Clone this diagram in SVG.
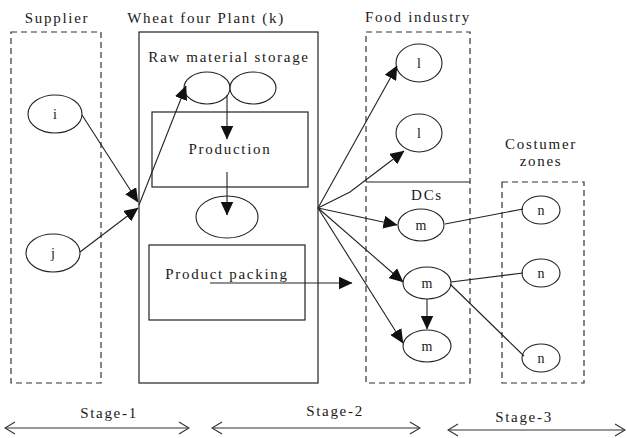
<svg xmlns="http://www.w3.org/2000/svg" width="627" height="438" viewBox="0 0 627 438">
<style>
  text { font-family: "Liberation Serif", "Times New Roman", serif; fill: #1a1a1a; text-anchor: middle; }
  .t { font-size: 15px; letter-spacing: 1.7px; }
  .n { font-size: 14px; }
  .dash { fill: none; stroke: #333; stroke-width: 1.2; stroke-dasharray: 6 4; }
  .box { fill: none; stroke: #222; stroke-width: 1.2; }
  .node { fill: #fff; stroke: #222; stroke-width: 1.1; }
  .c { fill: none; stroke: #222; stroke-width: 1.1; }
  .a { marker-end: url(#ah); }
  .s { fill: none; stroke: #333; stroke-width: 1.1; marker-start: url(#open); marker-end: url(#open); }
</style>
<defs>
  <marker id="ah" markerUnits="userSpaceOnUse" markerWidth="14" markerHeight="13" viewBox="0 0 14 13" refX="13.5" refY="6.5" orient="auto">
    <path d="M0,0 L14,6.5 L0,13 Z" fill="#111"/>
  </marker>
  <marker id="open" markerUnits="userSpaceOnUse" markerWidth="12" markerHeight="14" viewBox="0 0 12 14" refX="11" refY="7" orient="auto-start-reverse">
    <path d="M1,1 L11,7 L1,13" fill="none" stroke="#333" stroke-width="1.1"/>
  </marker>
</defs>

<g id="supplier">
  <rect class="dash" x="11" y="32" width="90" height="351"/>
  <text class="t" x="57" y="23">Supplier</text>
</g>
<g id="plant">
  <rect class="box" x="139" y="32" width="179" height="351"/>
  <text class="t" x="206" y="23">Wheat four Plant (k)</text>
  <text class="t" x="229" y="62">Raw material storage</text>
</g>
<g id="food-industry">
  <rect class="dash" x="366" y="32" width="104" height="351"/>
  <line x1="366" y1="182" x2="470" y2="182" stroke="#222" stroke-width="1.2"/>
  <text class="t" x="418" y="22">Food industry</text>
  <text class="t" x="427" y="200">DCs</text>
</g>
<g id="customer-zones">
  <rect class="dash" x="502" y="182" width="82" height="201"/>
  <text class="t" x="541" y="149">Costumer</text>
  <text class="t" x="541" y="166">zones</text>
</g>

<g id="node-i"><ellipse class="node" cx="55" cy="114" rx="27" ry="19"/><text class="n" x="55" y="119">i</text></g>
<g id="node-j"><ellipse class="node" cx="53" cy="253" rx="27" ry="19"/><text class="n" x="53" y="258">j</text></g>
<g id="storage-1"><ellipse class="node" cx="207" cy="88" rx="23" ry="16"/></g>
<g id="storage-2"><ellipse class="node" cx="253" cy="88" rx="23" ry="16"/></g>
<g id="production"><rect class="box" x="152" y="112" width="156" height="75"/><text class="t" x="230" y="154">Production</text></g>
<g id="product-store"><ellipse class="node" cx="227" cy="217" rx="31" ry="21"/></g>
<g id="packing"><rect class="box" x="149" y="245" width="156" height="75"/><text class="t" x="227" y="279">Product packing</text></g>
<g id="node-l1"><ellipse class="node" cx="419" cy="63" rx="23" ry="19"/><text class="n" x="419" y="68">l</text></g>
<g id="node-l2"><ellipse class="node" cx="419" cy="133" rx="23" ry="19"/><text class="n" x="419" y="138">l</text></g>
<g id="node-m1"><ellipse class="node" cx="421" cy="225" rx="23" ry="16"/><text class="n" x="421" y="230">m</text></g>
<g id="node-m2"><ellipse class="node" cx="427" cy="283" rx="24" ry="16"/><text class="n" x="427" y="288">m</text></g>
<g id="node-m3"><ellipse class="node" cx="427" cy="346" rx="24" ry="16"/><text class="n" x="427" y="351">m</text></g>
<g id="node-n1"><ellipse class="node" cx="541" cy="210" rx="19" ry="14"/><text class="n" x="541" y="215">n</text></g>
<g id="node-n2"><ellipse class="node" cx="541" cy="273" rx="19" ry="14"/><text class="n" x="541" y="278">n</text></g>
<g id="node-n3"><ellipse class="node" cx="541" cy="358" rx="19" ry="14"/><text class="n" x="541" y="363">n</text></g>

<g id="connectors">
  <line class="c a" x1="82" y1="115" x2="138" y2="202"/>
  <line class="c a" x1="80" y1="252" x2="138" y2="208"/>
  <line class="c a" x1="139" y1="205" x2="186" y2="86"/>
  <line class="c a" x1="227" y1="95" x2="227" y2="139"/>
  <line class="c a" x1="227" y1="172" x2="227" y2="215"/>
  <line class="c a" x1="210" y1="283" x2="352" y2="283"/>
  <line class="c a" x1="318" y1="208" x2="397" y2="66"/>
  <polyline class="c a" points="318,208 350,192 404,151"/>
  <line class="c a" x1="318" y1="208" x2="397" y2="225"/>
  <line class="c a" x1="318" y1="208" x2="403" y2="282"/>
  <line class="c a" x1="318" y1="208" x2="403" y2="343"/>
  <line class="c a" x1="427" y1="299" x2="427" y2="329"/>
  <line class="c" x1="445" y1="224" x2="523" y2="209"/>
  <line class="c" x1="451" y1="282" x2="523" y2="273"/>
  <line class="c" x1="450" y1="284" x2="524" y2="356"/>
</g>

<g id="stages">
  <line class="s" x1="5" y1="428" x2="189" y2="428"/>
  <text class="t" x="109" y="418">Stage-1</text>
  <line class="s" x1="212" y1="428" x2="420" y2="428"/>
  <text class="t" x="335" y="416">Stage-2</text>
  <line class="s" x1="448" y1="430" x2="625" y2="430"/>
  <text class="t" x="524" y="422">Stage-3</text>
</g>
</svg>
